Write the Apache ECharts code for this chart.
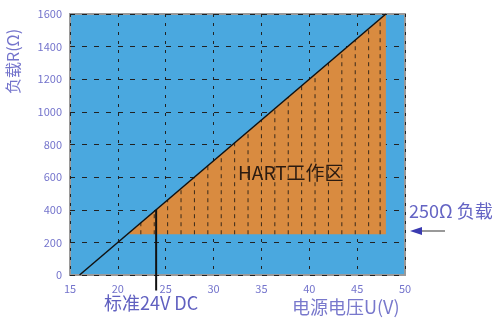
<!DOCTYPE html>
<html>
<head>
<meta charset="utf-8">
<script src="https://cdn.jsdelivr.net/npm/echarts@6/dist/echarts.min.js"></script>
<style>
  html, body { margin: 0; padding: 0; background: #fff; }
  #chart { width: 502px; height: 322px; }
</style>
</head>
<body>
<div id="chart"></div>
<script>
// load line: supply voltage (V) vs max load (Ω)
const loadLineU = [16, 48];
const loadLineR = [0, 1600];
// HART working zone polygon
const zoneU = [21, 48, 48];
const zoneR = [250, 1600, 250];
// standard 24V DC marker
const stdU = 24;
const stdR = 400;
// hatch lines inside zone
const hatchU = [22.4, 23.8, 25.2, 26.6, 28, 29.4, 30.8, 32.2, 33.6, 35, 36.4, 37.8, 39.2, 40.6, 42, 43.4, 44.8, 46.2, 47.4];

const labelColor = '#7474cc';
const font = '"Noto Sans CJK SC", "DejaVu Sans", sans-serif';

const chart = echarts.init(document.getElementById('chart'));

function loadAt(u) {
  return loadLineR[0] + (u - loadLineU[0]) * (loadLineR[1] - loadLineR[0]) / (loadLineU[1] - loadLineU[0]);
}

const option = {
  animation: false,
  grid: {
    left: 70, right: 97, top: 14, bottom: 47,
    show: true,
    backgroundColor: '#4aa8df',
    borderColor: '#9a9a9a',
    borderWidth: 2
  },
  xAxis: {
    type: 'value',
    min: 15, max: 50, interval: 5,
    axisLine: { show: false },
    axisTick: { show: false },
    axisLabel: { color: labelColor, fontSize: 11, fontFamily: font, margin: 8 },
    splitLine: { show: true, lineStyle: { color: '#222', type: [3, 6], width: 1 } }
  },
  yAxis: {
    type: 'value',
    min: 0, max: 1600, interval: 200,
    axisLine: { show: false },
    axisTick: { show: false },
    axisLabel: { color: labelColor, fontSize: 11, fontFamily: font, margin: 8, formatter: v => String(v) },
    splitLine: { show: true, lineStyle: { color: '#222', type: [5, 7], width: 1 } }
  },
  series: [
    {
      type: 'custom',
      z: 2,
      data: [0],
      renderItem(params, api) {
        const pts = zoneU.map((u, i) => api.coord([u, zoneR[i]]));
        return {
          type: 'polygon',
          shape: { points: pts },
          style: { fill: '#d98b40' }
        };
      }
    },
    {
      type: 'custom',
      z: 3,
      data: hatchU.map(u => [u]),
      renderItem(params, api) {
        const u = api.value(0);
        const top = Math.max(zoneR[0], loadAt(u));
        const p1 = api.coord([u, zoneR[0]]);
        const p2 = api.coord([u, top]);
        return {
          type: 'line',
          shape: { x1: p1[0], y1: p1[1], x2: p2[0], y2: p2[1] },
          style: { stroke: '#3a2a1a', lineWidth: 1, lineDash: [4, 4] }
        };
      }
    },
    {
      type: 'line',
      z: 4,
      symbol: 'none',
      data: loadLineU.map((u, i) => [u, loadLineR[i]]),
      lineStyle: { color: '#111', width: 1.5 }
    },
    {
      type: 'line',
      z: 4,
      symbol: 'none',
      clip: false,
      data: [[stdU, stdR], [stdU, -95]],
      lineStyle: { color: '#111', width: 2 }
    }
  ],
  graphic: [
    {
      type: 'text', x: 5, y: 94, rotation: Math.PI / 2, z: 100,
      style: {
        text: '负载R(Ω)', fill: labelColor, fontSize: 16, fontFamily: font,
        align: 'left', verticalAlign: 'top'
      }
    },
    {
      type: 'text', left: 104, top: 294, z: 100,
      style: { text: '标准24V DC', fill: '#6060c0', fontSize: 18, fontFamily: font }
    },
    {
      type: 'text', left: 292, top: 298, z: 100,
      style: { text: '电源电压U(V)', fill: '#7878cc', fontSize: 18, fontFamily: font }
    },
    {
      type: 'text', left: 238, top: 163, z: 100,
      style: { text: 'HART工作区', fill: '#2a1a10', fontSize: 19, fontFamily: font }
    },
    {
      type: 'text', left: 409, top: 202, z: 100,
      style: { text: '250Ω 负载', fill: '#6464c4', fontSize: 18, fontFamily: font }
    },
    {
      type: 'line', z: 100,
      shape: { x1: 420, y1: 231, x2: 445, y2: 231 },
      style: { stroke: '#777', lineWidth: 1.5 }
    },
    {
      type: 'polygon', z: 100,
      shape: { points: [[410, 231], [422, 227], [422, 235]] },
      style: { fill: '#3a3ab0' }
    }
  ]
};

chart.setOption(option);
</script>
</body>
</html>
